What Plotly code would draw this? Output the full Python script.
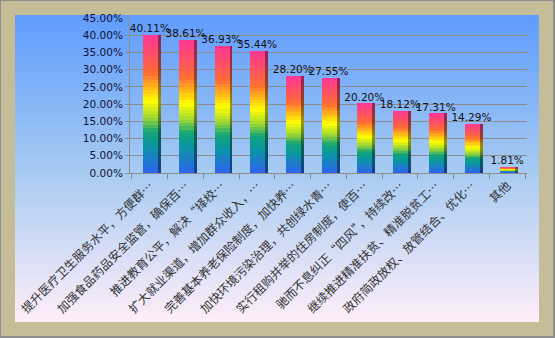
import base64
import plotly.graph_objects as go

categories = [
    "提升医疗卫生服务水平，方便群…",
    "加强食品药品安全监管，确保百…",
    "推进教育公平，解决“择校…",
    "扩大就业渠道，增加群众收入，…",
    "完善基本养老保险制度，加快养…",
    "加快环境污染治理，共创绿水青…",
    "实行租购并举的住房制度，使百…",
    "驰而不息纠正“四风”，持续改…",
    "继续推进精准扶贫、精准脱贫工…",
    "政府简政放权、放管结合、优化…",
    "其他",
]
values = [40.11, 38.61, 36.93, 35.44, 28.20, 27.55, 20.20, 18.12, 17.31, 14.29, 1.81]
labels = [f"{v:.2f}%" for v in values]

# rainbow gradient stops (fraction of bar height from bottom -> colour)
stops = [
    (0.00, (46, 100, 240)),
    (0.20, (10, 150, 160)),
    (0.30, (20, 165, 120)),
    (0.40, (160, 215, 50)),
    (0.52, (255, 255, 0)),
    (0.72, (255, 110, 50)),
    (0.85, (255, 80, 100)),
    (1.00, (255, 55, 150)),
]


def colour_at(f, k=1.0):
    for (f0, c0), (f1, c1) in zip(stops[:-1], stops[1:]):
        if f0 <= f <= f1:
            t = (f - f0) / (f1 - f0)
            return "rgb(%d,%d,%d)" % tuple(round((a + (b - a) * t) * k) for a, b in zip(c0, c1))
    return "rgb(%d,%d,%d)" % tuple(round(c * k) for c in stops[-1][1])


N = 40
fig = go.Figure()
fracs = [v / 100 for v in values]
# tallest slice first, shorter ones painted over it: smooth vertical gradient
for i in reversed(range(N)):
    f_mid = (i + 0.5) / N
    # front face
    fig.add_trace(go.Bar(
        x=categories,
        y=[fv * (i + 1) / N for fv in fracs],
        marker=dict(color=colour_at(f_mid), line=dict(width=0)),
        width=0.42, offset=-0.19,
        hoverinfo="skip", showlegend=False,
    ))
    # darker side face
    fig.add_trace(go.Bar(
        x=categories,
        y=[fv * (i + 1) / N for fv in fracs],
        marker=dict(color=colour_at(f_mid, 0.6), line=dict(width=0)),
        width=0.08, offset=0.23,
        hoverinfo="skip", showlegend=False,
    ))

fig.add_trace(go.Scatter(
    x=categories,
    y=fracs,
    mode="text",
    text=labels,
    textposition="top center",
    textfont=dict(family="DejaVu Sans", size=10.5, color="#111111"),
    cliponaxis=False,
    showlegend=False,
    hoverinfo="skip",
))

W, H = 555, 338
L, R, T, B = 130, 28, 18, 165
pw, ph = W - L - R, H - T - B

svg = f'''<svg xmlns="http://www.w3.org/2000/svg" width="{W}" height="{H}" viewBox="0 0 {W} {H}">
<defs><linearGradient id="g" x1="0" y1="0" x2="0" y2="1">
<stop offset="0" stop-color="#5F9CFE"/>
<stop offset="0.5" stop-color="#A5CAF2"/>
<stop offset="1" stop-color="#FFEEF9"/>
</linearGradient></defs>
<rect x="0" y="0" width="{W}" height="{H}" fill="#8E8E8E"/>
<rect x="1" y="1" width="{W-3}" height="{H-3}" fill="#C5BD97"/>
<rect x="15" y="15" width="524" height="307" fill="url(#g)"/>
</svg>'''
src = "data:image/svg+xml;base64," + base64.b64encode(svg.encode()).decode()

fig.add_layout_image(dict(
    source=src, xref="paper", yref="paper",
    x=-L / pw, y=1 + T / ph, sizex=W / pw, sizey=H / ph,
    xanchor="left", yanchor="top", sizing="stretch", layer="below",
))

fig.update_layout(
    width=W, height=H,
    margin=dict(l=L, r=R, t=T, b=B, autoexpand=False),
    barmode="overlay",
    paper_bgcolor="#C5BD97",
    plot_bgcolor="rgba(0,0,0,0)",
    bargap=0,
)
fig.update_yaxes(
    range=[0, 0.45], dtick=0.05, tickformat=".2%",
    showgrid=True, gridcolor="#8C8C8C", gridwidth=1,
    showline=True, linecolor="#8C8C8C", linewidth=1,
    ticks="outside", ticklen=4, tickcolor="#8C8C8C",
    tickfont=dict(family="DejaVu Sans", size=10.5, color="#111133"),
    zeroline=False,
)
fig.update_xaxes(
    tickangle=-45, showline=True, linecolor="#8C8C8C", linewidth=1,
    ticks="outside", ticklen=5, tickcolor="#8C8C8C", tickson="boundaries",
    tickfont=dict(family="Noto Sans CJK SC", size=12, color="#333333"),
    showgrid=False,
)

fig.write_html("out.html")
